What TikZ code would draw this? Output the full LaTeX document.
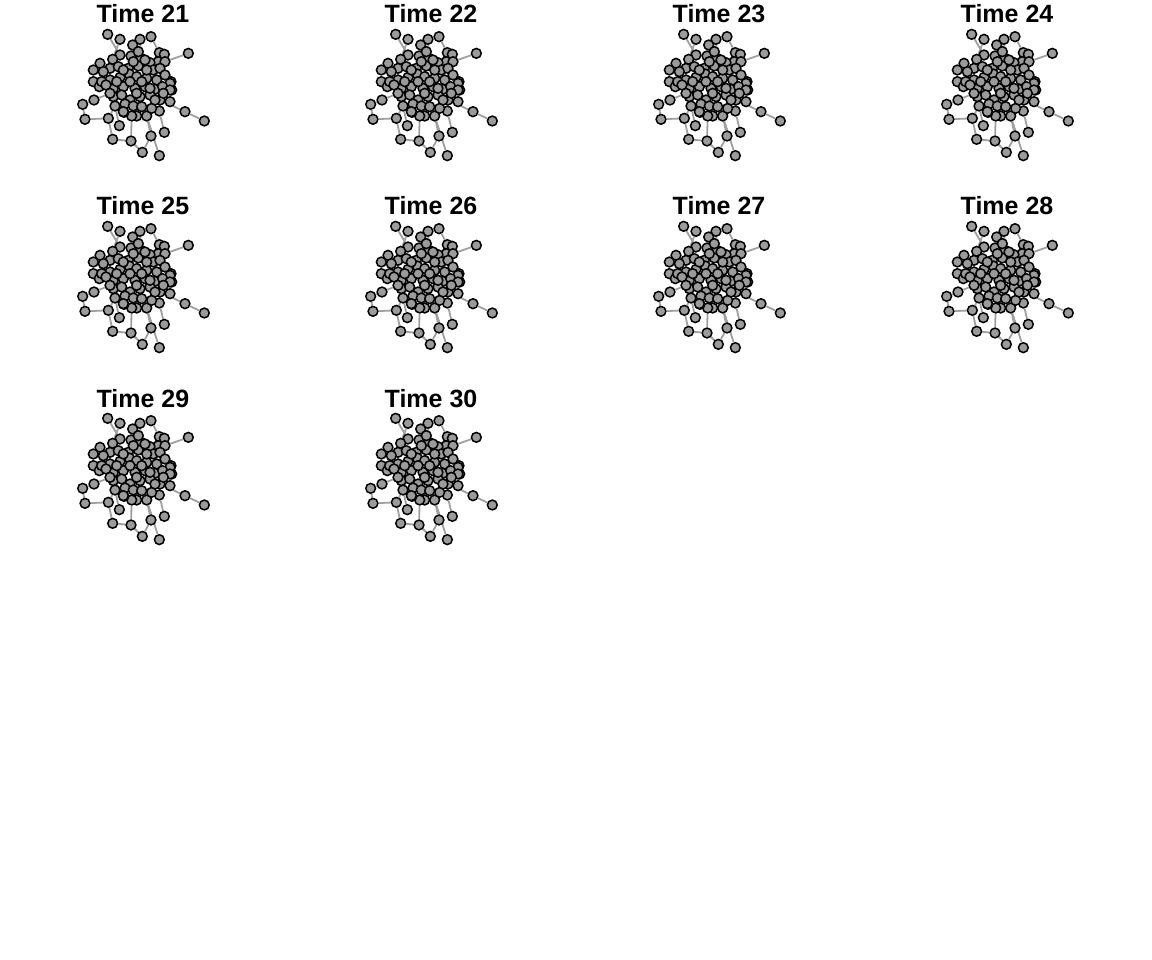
\documentclass[tikz,border=0pt]{standalone}
\usepackage{fontspec}
\setmainfont{Liberation Sans}
\usetikzlibrary{backgrounds}
\definecolor{vfill}{RGB}{155,155,155}
\definecolor{ecol}{RGB}{160,160,160}
\tikzset{
  vert/.style={circle,draw=black,fill=vfill,line width=1.5pt,minimum size=9.8pt,inner sep=0pt},
  edgeline/.style={draw=ecol,line width=1.8pt},
  ttl/.style={anchor=base,font=\fontsize{25}{28}\selectfont\bfseries,inner sep=0pt}
}
\newcommand{\vlist}{113/103,150/118,210/118,243/110,188/135,355/160,268/158,283/163,90/190,70/210,70/245,88/260,72/300,38/313,45/358,115/355,148/377,128/418,183/423,217/457,268/467,243/408,283/397,345/335,403/363,300/305,305/270,303/245,268/333,230/348,200/348,185/348,162/337,150/165,183/168,213/175,128/178,205/155,265/185,285/185,240/188,120/205,145/200,175/205,205/198,250/210,270/205,100/215,120/240,150/232,178/222,200/230,230/235,260/240,285/225,300/250,95/245,130/265,160/260,195/265,225/260,255/268,278/260,300/270,108/255,130/290,155/285,180/300,210/290,240/285,270/300,135/318,165/312,190/318,215/320,245/325,230/210,160/210,215/245,180/245,240/265,200/280,120/280,280/280,160/335,255/300,190/185,225/180,140/245}
\newcommand{\elist}{1/34,2/37,3/36,4/7,5/35,6/40,7/39,8/40,9/48,10/42,11/57,12/65,13/83,14/13,15/14,15/16,16/72,17/72,18/16,18/19,19/32,19/20,20/22,21/30,22/30,23/29,24/25,24/71,26/64,27/56,28/55,29/71,31/74,33/72,34/43,35/44,36/45,37/42,38/36,39/41,40/47,41/46,42/49,43/50,44/51,45/52,46/54,47/55,48/57,49/58,50/59,51/80,52/79,53/61,54/62,55/56,56/64,57/65,58/66,59/67,60/68,61/70,62/71,63/84,64/84,65/83,66/72,67/73,68/74,69/75,70/76,71/86,77/53,78/50,79/60,80/59,81/62,82/69,85/73,87/44,88/77,89/58,10/9,11/12}
\begin{document}
\begin{tikzpicture}[x=1pt,y=-1pt]
\useasboundingbox (0,0) rectangle (1152,960);
\foreach \t/\c/\r in {21/0/0,22/1/0,23/2/0,24/3/0,25/0/1,26/1/1,27/2/1,28/3/1,29/0/2,30/1/2}{
  \begin{scope}[xshift=\c*288pt,yshift=-\r*192pt]
    \node[ttl] (title\t) at (143,23) {Time \t};
    \begin{scope}[xshift=70pt,x=1pt/3,y=-1pt/3]
      \foreach \vx/\vy [count=\i] in \vlist {
        \node[vert] (v\t-\i) at (\vx,\vy) {};
      }
      \begin{pgfonlayer}{background}
        \foreach \a/\b in \elist {
          \draw[edgeline] (v\t-\a) -- (v\t-\b);
        }
      \end{pgfonlayer}
    \end{scope}
  \end{scope}
}
\end{tikzpicture}
\end{document}
